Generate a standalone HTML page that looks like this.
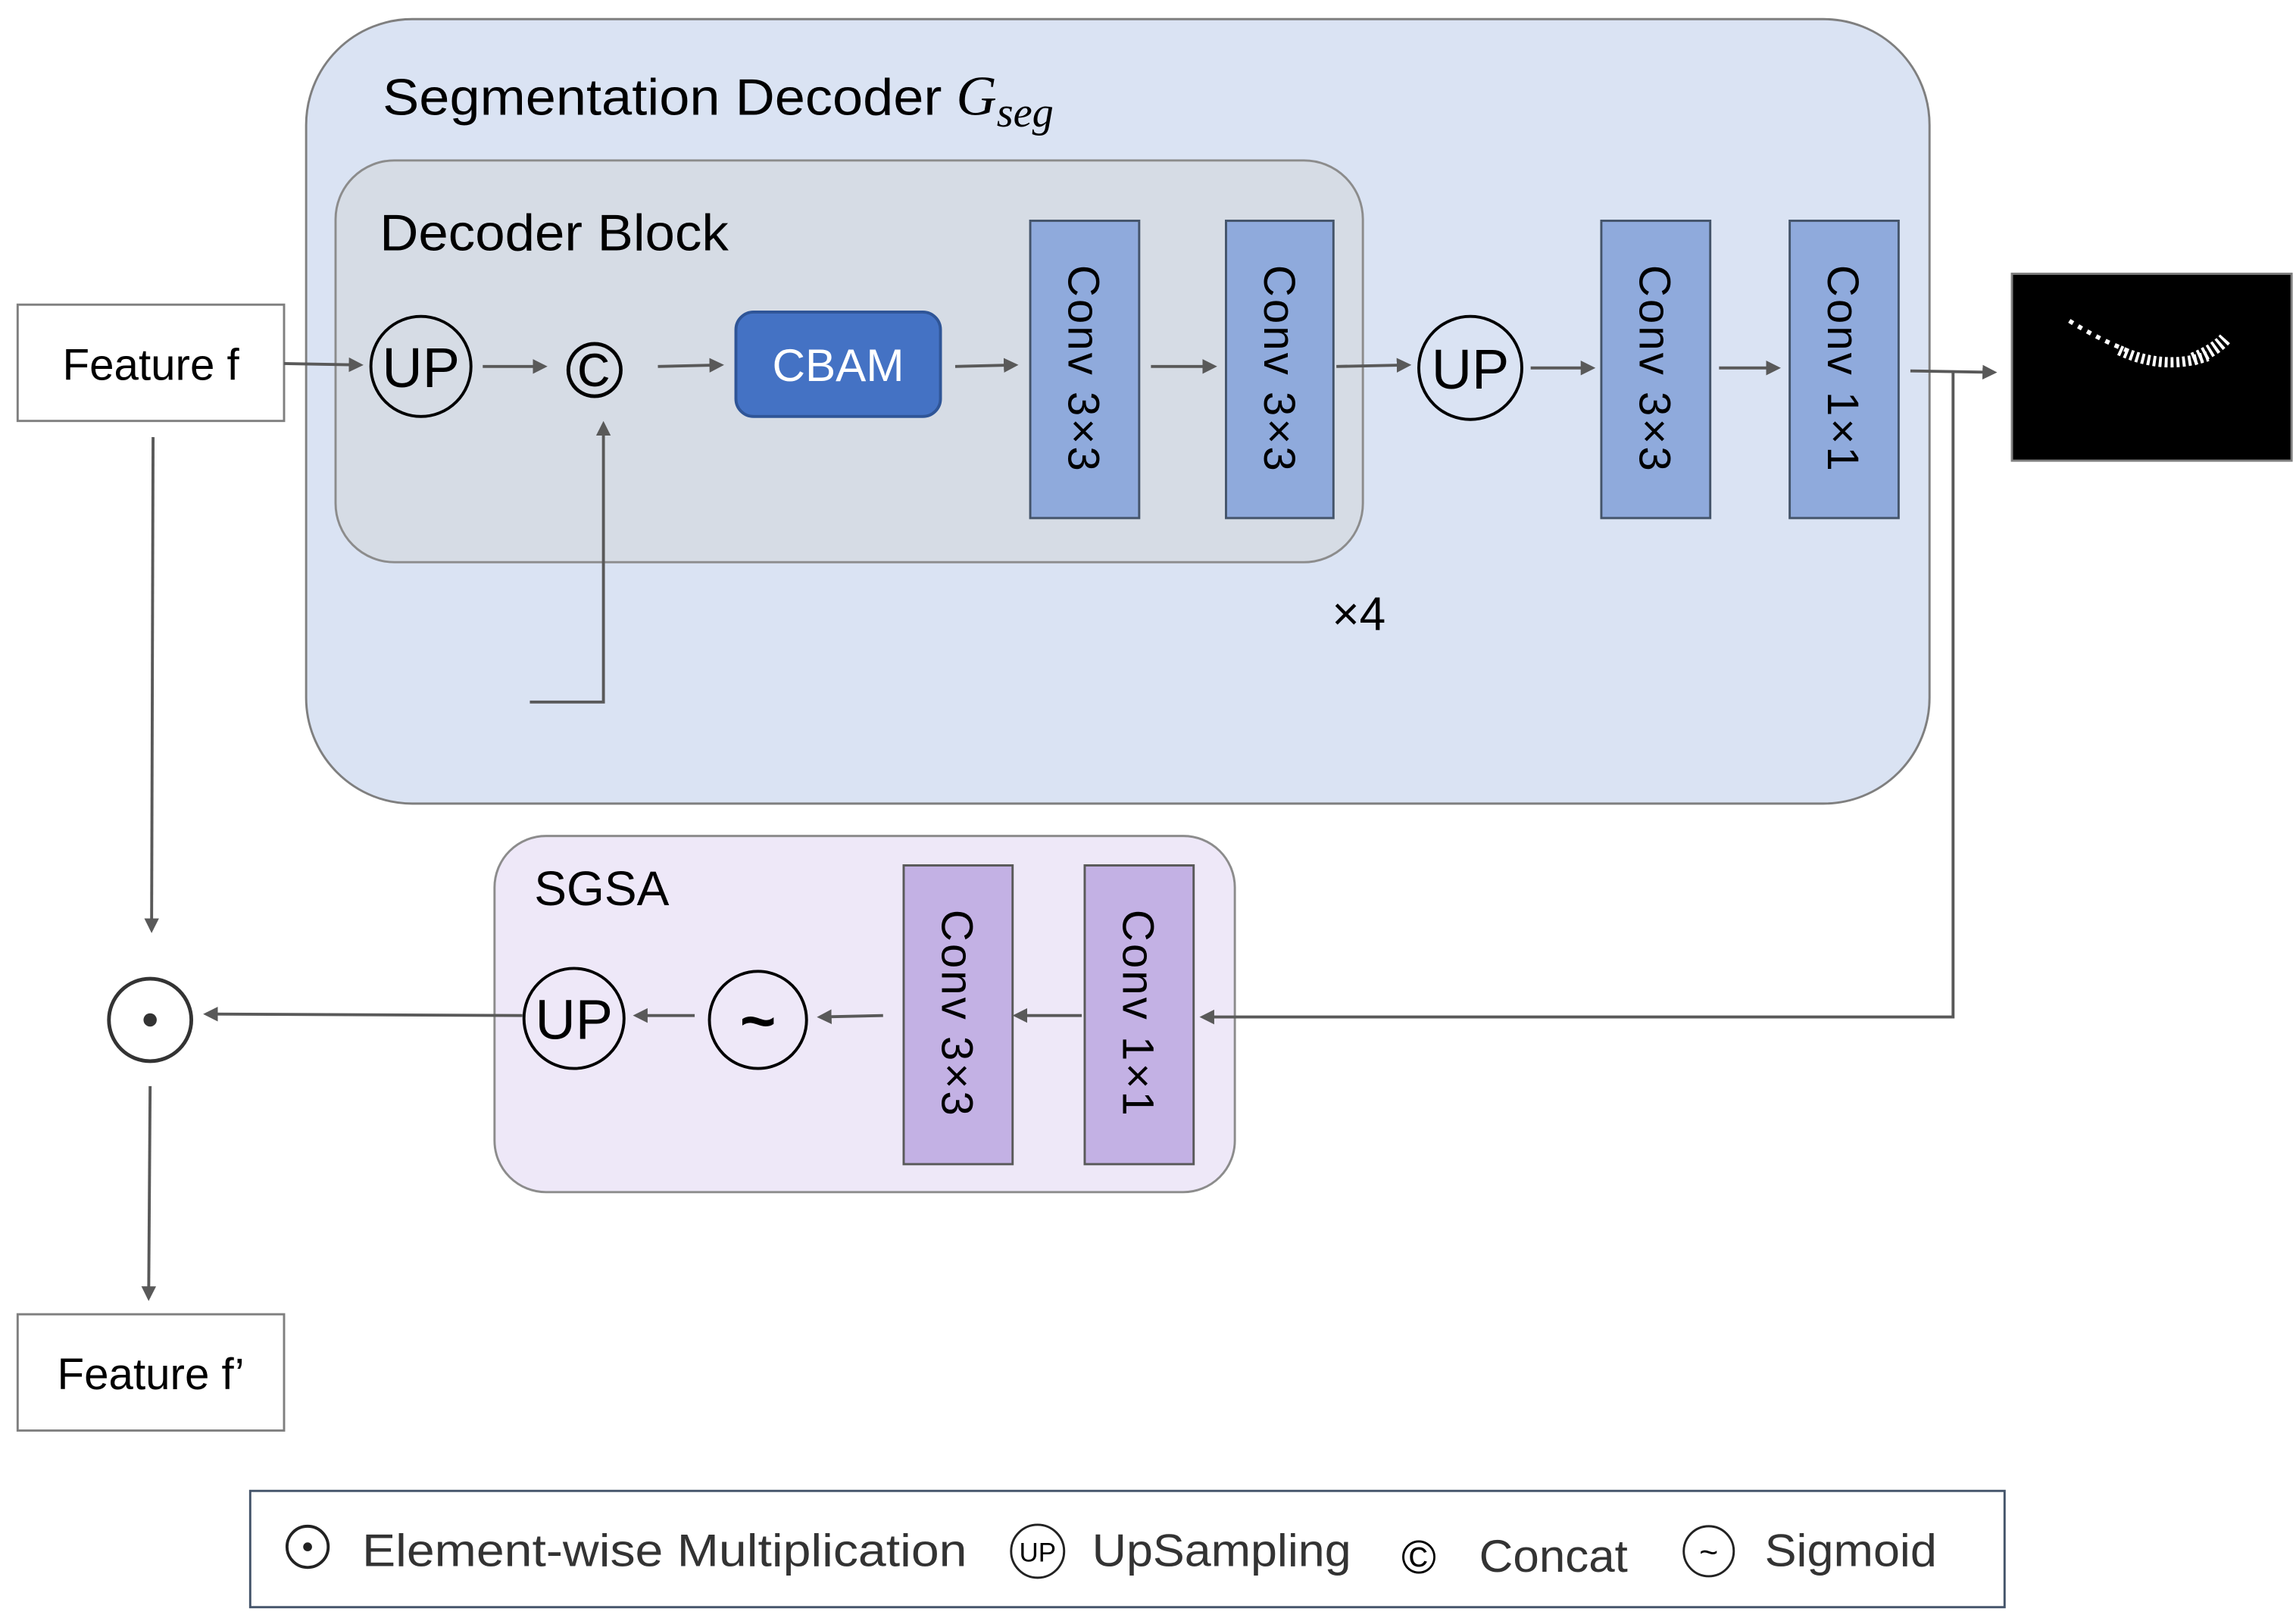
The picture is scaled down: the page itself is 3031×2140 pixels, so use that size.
<!DOCTYPE html>
<html><head><meta charset="utf-8"><style>html,body{margin:0;padding:0;background:#fff}svg{display:block}text{font-family:"Liberation Sans","DejaVu Sans",sans-serif}</style></head>
<body>
<svg width="3031" height="2140" viewBox="0 0 1560 1101.4" preserveAspectRatio="none" xmlns="http://www.w3.org/2000/svg">
<defs><marker id="a" markerWidth="10" markerHeight="10" refX="8" refY="5" orient="auto" markerUnits="userSpaceOnUse"><path d="M0,0 L10,5 L0,10 z" fill="#595959"/></marker></defs>
<rect width="1560" height="1101.4" fill="#fff"/>
<rect x="208" y="13" width="1103" height="533" rx="72" fill="#dae3f3" stroke="#7f7f7f" stroke-width="1.5"/>
<text x="260" y="78" font-size="35"><tspan textLength="380" lengthAdjust="spacingAndGlyphs">Segmentation Decoder</tspan> <tspan font-family="Liberation Serif" font-style="italic" font-size="38">G</tspan><tspan font-family="Liberation Serif" font-style="italic" font-size="29" dy="8">seg</tspan></text>
<rect x="228" y="109" width="698" height="273" rx="40" fill="#d6dce5" stroke="#8c8c8c" stroke-width="1.5"/>
<text x="258" y="170" font-size="35" textLength="237" lengthAdjust="spacingAndGlyphs">Decoder Block</text>
<rect x="12" y="207" width="181" height="79" fill="#fff" stroke="#7f7f7f" stroke-width="1.5"/>
<text x="102.5" y="258" font-size="30" text-anchor="middle">Feature f</text>
<circle cx="286" cy="249" r="34" fill="none" stroke="#000" stroke-width="2"/>
<text x="286" y="263" font-size="38" text-anchor="middle">UP</text>
<text x="404" y="270" font-size="54" text-anchor="middle">©</text>
<rect x="500" y="212" width="139" height="71" rx="12" fill="#4472c4" stroke="#2f5597" stroke-width="2"/>
<text x="569.5" y="259" font-size="31" fill="#fff" text-anchor="middle">CBAM</text>
<g fill="#8faadc" stroke="#44546a" stroke-width="1.5">
<rect x="700" y="150" width="74" height="202"/><rect x="833" y="150" width="73" height="202"/>
<rect x="1088" y="150" width="74" height="202"/><rect x="1216" y="150" width="74" height="202"/>
</g>
<g font-size="30" letter-spacing="2">
<text transform="translate(726,251) rotate(90)" text-anchor="middle" textLength="142" lengthAdjust="spacing">Conv 3×3</text>
<text transform="translate(859,251) rotate(90)" text-anchor="middle" textLength="142" lengthAdjust="spacing">Conv 3×3</text>
<text transform="translate(1114,251) rotate(90)" text-anchor="middle" textLength="142" lengthAdjust="spacing">Conv 3×3</text>
<text transform="translate(1242,251) rotate(90)" text-anchor="middle" textLength="142" lengthAdjust="spacing">Conv 1×1</text>
</g>
<circle cx="999" cy="250" r="35" fill="none" stroke="#000" stroke-width="2"/>
<text x="999" y="264" font-size="38" text-anchor="middle">UP</text>
<text x="905" y="428" font-size="32">×4</text>
<rect x="1367" y="186" width="190" height="127" fill="#000" stroke="#7f7f7f" stroke-width="1.5"/>
<path d="M1406,218 Q1425,230 1445,238" stroke="#fff" stroke-width="3" fill="none" stroke-dasharray="3,4"/>
<path d="M1440,238 Q1470,252 1500,242" stroke="#fff" stroke-width="7" fill="none" stroke-dasharray="2,2"/>
<path d="M1490,244 Q1505,238 1512,230" stroke="#fff" stroke-width="9" fill="none" stroke-dasharray="2,2"/>
<rect x="336" y="568" width="503" height="242" rx="35" fill="#eee8f8" stroke="#8c8c8c" stroke-width="1.5"/>
<text x="363" y="615" font-size="33">SGSA</text>
<g fill="#c3b1e4" stroke="#595959" stroke-width="1.5">
<rect x="614" y="588" width="74" height="203"/><rect x="737" y="588" width="74" height="203"/>
</g>
<g font-size="30" letter-spacing="2">
<text transform="translate(640,689) rotate(90)" text-anchor="middle" textLength="142" lengthAdjust="spacing">Conv 3×3</text>
<text transform="translate(763,689) rotate(90)" text-anchor="middle" textLength="142" lengthAdjust="spacing">Conv 1×1</text>
</g>
<circle cx="390" cy="692" r="34" fill="none" stroke="#000" stroke-width="2"/>
<text x="390" y="706" font-size="38" text-anchor="middle">UP</text>
<circle cx="515" cy="693" r="33" fill="none" stroke="#000" stroke-width="2"/>
<text x="515" y="708" font-size="42" text-anchor="middle" font-weight="bold">~</text>
<circle cx="102" cy="693" r="28" fill="none" stroke="#333" stroke-width="2.5"/>
<circle cx="102" cy="693" r="4.5" fill="#333"/>
<rect x="12" y="893" width="181" height="79" fill="#fff" stroke="#7f7f7f" stroke-width="1.5"/>
<text x="102.5" y="944" font-size="30" text-anchor="middle">Feature f’</text>
<g stroke="#595959" stroke-width="2" fill="none" marker-end="url(#a)">
<line x1="193" y1="247" x2="245" y2="248"/>
<line x1="328" y1="249" x2="370" y2="249"/>
<line x1="447" y1="249" x2="490" y2="248"/>
<line x1="649" y1="249" x2="690" y2="248"/>
<line x1="782" y1="249" x2="825" y2="249"/>
<line x1="908" y1="249" x2="957" y2="248"/>
<line x1="1040" y1="250" x2="1082" y2="250"/>
<line x1="1168" y1="250" x2="1208" y2="250"/>
<line x1="1298" y1="252" x2="1355" y2="253"/>
<polyline points="1327,252 1327,691 817,691"/>
<polyline points="360,477 410,477 410,288"/>
<line x1="104" y1="297" x2="103" y2="632"/>
<line x1="102" y1="738" x2="101" y2="882"/>
<line x1="735" y1="690" x2="690" y2="690"/>
<line x1="600" y1="690" x2="557" y2="691"/>
<line x1="472" y1="690" x2="432" y2="690"/>
<line x1="355" y1="690" x2="140" y2="689"/>
</g>
<rect x="170" y="1013" width="1192" height="79" fill="#fff" stroke="#44546a" stroke-width="1.5"/>
<circle cx="209" cy="1051" r="14" fill="none" stroke="#222" stroke-width="2"/>
<circle cx="209" cy="1051" r="3" fill="#222"/>
<g font-size="31" fill="#333">
<text x="246" y="1064" textLength="411" lengthAdjust="spacingAndGlyphs">Element-wise Multiplication</text>
<text x="742" y="1064" textLength="176" lengthAdjust="spacingAndGlyphs">UpSampling</text>
<text x="1005" y="1068" textLength="101" lengthAdjust="spacingAndGlyphs">Concat</text>
<text x="1199" y="1064" textLength="117" lengthAdjust="spacingAndGlyphs">Sigmoid</text>
</g>
<circle cx="705" cy="1054" r="18" fill="none" stroke="#222" stroke-width="1.5"/>
<text x="705" y="1061" font-size="18" text-anchor="middle">UP</text>
<text x="964" y="1069" font-size="32" text-anchor="middle">©</text>
<circle cx="1161" cy="1054" r="17" fill="none" stroke="#222" stroke-width="1.5"/>
<text x="1161" y="1062" font-size="22" text-anchor="middle">~</text>
</svg>
</body></html>
